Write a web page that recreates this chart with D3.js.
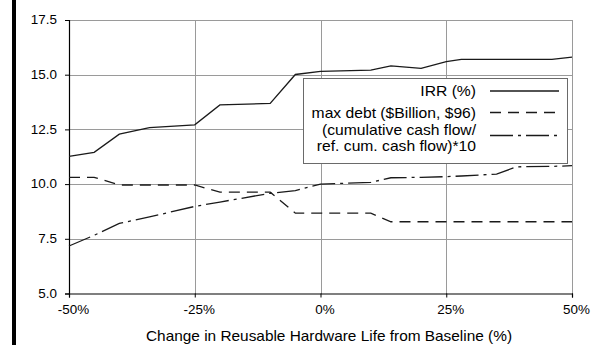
<!DOCTYPE html>
<html>
<head>
<meta charset="utf-8">
<script src="https://cdn.jsdelivr.net/npm/d3@7"></script>
<style>
  html, body { margin: 0; padding: 0; background: #fff; }
  svg { display: block; font-family: "Liberation Sans", Arial, sans-serif; }
</style>
</head>
<body>
<svg id="chart" width="600" height="345"></svg>
<script>
// Change in reusable hardware life from baseline (%)
const lifeChange = [-50, -45, -40, -34, -25, -20, -10, -5, 0, 10, 14, 20, 25, 28, 35, 39, 46, 50];

// Internal rate of return (%)
const irr = [11.27, 11.45, 12.28, 12.58, 12.71, 13.62, 13.69, 15.01, 15.15, 15.21, 15.40, 15.29, 15.60, 15.70, 15.70, 15.70, 15.70, 15.80];

// Maximum debt ($Billion, $96)
const maxDebt = [10.31, 10.31, 9.96, 9.96, 9.96, 9.63, 9.63, 8.67, 8.67, 8.67, 8.28, 8.28, 8.28, 8.28, 8.28, 8.28, 8.28, 8.28];

// Cumulative cash flow relative to the reference case, times 10
const cashFlow = [7.17, 7.66, 8.20, 8.50, 8.98, 9.18, 9.58, 9.70, 10.00, 10.08, 10.29, 10.31, 10.34, 10.37, 10.46, 10.79, 10.81, 10.84];

const yTicks = [5.0, 7.5, 10.0, 12.5, 15.0, 17.5];
const xTicks = [-50, -25, 0, 25, 50];
const xTitle = "Change in Reusable Hardware Life from Baseline (%)";

const legendItems = [
  { lines: ["IRR (%)"], values: irr, dash: null },
  { lines: ["max debt ($Billion, $96)"], values: maxDebt, dash: "11,7" },
  { lines: ["(cumulative cash flow/", "ref. cum. cash flow)*10"], values: cashFlow, dash: "23,5,3,5" }
];

const svg = d3.select("#chart");
const plot = { left: 69, right: 572, top: 20, bottom: 293.5 };

const x = d3.scaleLinear().domain([-50, 50]).range([plot.left, plot.right]);
const y = d3.scaleLinear().domain([5, 17.5]).range([plot.bottom, plot.top]);

// page border on the left
svg.append("rect").attr("x", 12).attr("y", 0).attr("width", 4).attr("height", 345).attr("fill", "#000");

// grid
const grid = svg.append("g").attr("stroke", "#9a9a9a").attr("stroke-width", 1).attr("shape-rendering", "crispEdges");
grid.selectAll("line.h").data(yTicks.filter(d => d > 5)).join("line")
  .attr("x1", plot.left).attr("x2", plot.right)
  .attr("y1", d => Math.round(y(d)) + 0.5).attr("y2", d => Math.round(y(d)) + 0.5);
grid.selectAll("line.v").data(xTicks.filter(d => d > -50)).join("line")
  .attr("y1", plot.top).attr("y2", plot.bottom)
  .attr("x1", d => Math.round(x(d)) + 0.5).attr("x2", d => Math.round(x(d)) + 0.5);

// axes
const yAxis = d3.axisLeft(y).tickValues(yTicks).tickFormat(d3.format(".1f")).tickSize(4).tickPadding(8);
const xAxis = d3.axisBottom(x).tickValues(xTicks).tickFormat(d => d + "%").tickSize(4).tickPadding(8);

const gy = svg.append("g").attr("transform", `translate(${plot.left},0)`).call(yAxis);
const gx = svg.append("g").attr("transform", `translate(0,${plot.bottom})`).call(xAxis);
[gx, gy].forEach(g => {
  g.select(".domain").attr("stroke", "#000").attr("stroke-width", 1.2);
  g.selectAll(".tick line").attr("stroke", "#000");
  g.selectAll(".tick text").attr("fill", "#000").style("font-size", "12px")
    .style("font-family", '"Liberation Sans", Arial, sans-serif');
});
// tick labels are set slightly wide
gy.selectAll(".tick text").attr("x", 0).attr("transform", "translate(-12,0) scale(1.12,1)");
gx.selectAll(".tick text").attr("transform", "translate(4,0) scale(1.12,1)");

// axis title
svg.append("text").attr("transform", "translate(329,341) scale(1.1,1)")
  .attr("text-anchor", "middle").style("font-size", "14px").attr("fill", "#000").text(xTitle);

// series
const line = vals => d3.line().x((d, i) => x(lifeChange[i])).y(d => y(d))(vals);
legendItems.forEach(s => {
  svg.append("path").attr("d", line(s.values)).attr("fill", "none")
    .attr("stroke", "#1a1a1a").attr("stroke-width", 1.3)
    .attr("stroke-dasharray", s.dash);
});

// legend
const lg = svg.append("g");
lg.append("rect").attr("x", 303.5).attr("y", 78.5).attr("width", 264).attr("height", 85)
  .attr("fill", "#fff").attr("stroke", "#6a6a6a").attr("stroke-width", 1);
const rowY = [91, 112.5, 138];
legendItems.forEach((s, i) => {
  const cy = rowY[i];
  const n = s.lines.length;
  s.lines.forEach((t, j) => {
    lg.append("text")
      .attr("transform", `translate(476,${cy + (j - (n - 1) / 2) * 16 + 5}) scale(1.08,1)`)
      .attr("text-anchor", "end").style("font-size", "14.5px").attr("fill", "#000").text(t);
  });
  const ly = i === 2 ? 135.5 : cy;
  lg.append("line").attr("x1", 490).attr("x2", 559).attr("y1", ly).attr("y2", ly)
    .attr("stroke", "#1a1a1a").attr("stroke-width", 1.3).attr("stroke-dasharray", s.dash);
});
</script>
</body>
</html>
